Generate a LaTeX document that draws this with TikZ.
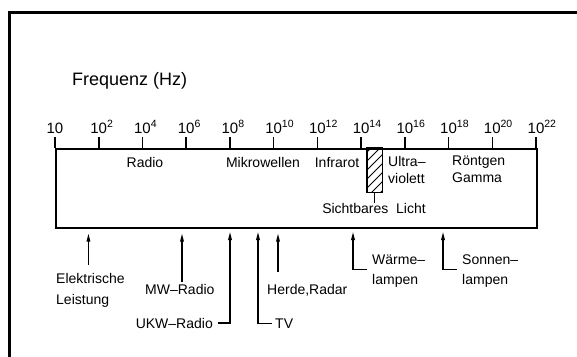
\documentclass[tikz,border=0pt]{standalone}
\usepackage{fontspec}
\setmainfont{Liberation Sans}
\usetikzlibrary{arrows.meta,positioning,calc}

\begin{document}
\begin{tikzpicture}[x=1pt,y=-1pt,
  txt/.style={inner sep=0pt,font=\fontsize{14}{16}\selectfont},
  zwei/.style={txt,align=left,font=\fontsize{14}{#1}\selectfont},
  pfeil/.style={line width=1.3pt,-{Triangle[length=8pt,width=3.6pt]}},
  hinweis/.style={line width=1.3pt}]
  \useasboundingbox (0,0) rectangle (577,356);

  % 外枠
  \draw[line width=2.7pt] (9.3,360) -- (9.3,12.3) -- (580,12.3);

  % 周波数軸
  \node[txt,anchor=base west,font=\fontsize{18}{20}\selectfont] (freq) at (72,85) {Frequenz (Hz)};
  \node[draw,line width=1.6pt,minimum width=481pt,minimum height=79pt,
        anchor=north west,inner sep=0pt] (band) at (55,148) {};
  \coordinate (unten) at ([yshift=-5pt]band.south);
  \foreach \k in {0,...,11} {
    \coordinate (s\k) at (55+43.73*\k,148);
    \draw[line width=1.6pt] (s\k) -- ++(0,-11);
  }
  \node[txt,anchor=base,font=\fontsize{15}{17}\selectfont] (e0) at (55,133) {10};
  \foreach \k in {1,...,11} {
    \pgfmathtruncatemacro\ex{2*\k}
    \node[txt,anchor=base,font=\fontsize{15}{17}\selectfont] (e\k) at (55+43.73*\k,133)
      {10\rlap{\textsuperscript{\ex}}};
  }

  % 帯の中
  \node[txt,anchor=base] (radio) at (145,167) {Radio};
  \node[txt,anchor=base] (mikro) at (263,167) {Mikrowellen};
  \node[txt,anchor=base] (infra) at (337,167) {Infrarot};
  \node[zwei=17,anchor=north west] (uv) at (388,156) {Ultra–\\violett};
  \node[zwei=17,anchor=north west] (roent) at (452,156) {Röntgen\\Gamma};

  % 可視光
  \node[minimum width=15pt,minimum height=44pt,anchor=north west,inner sep=0pt] (licht) at (367,148) {};
  \begin{scope}
    \clip (licht.south west) rectangle (licht.north east);
    \foreach \y in {152,161,...,230} \draw[line width=0.9pt] (367,\y) -- ++(30,-30);
  \end{scope}
  \draw[line width=1.4pt] (licht.south west) rectangle (licht.north east);
  \node[txt,anchor=base] (sicht) at (374,213) {Sichtbares\ \ Licht};
  \draw[hinweis] (licht.south) -- (licht.south |- sicht.north);

  % 用途
  \node[zwei=21,anchor=north west] (elek) at (56,273) {Elektrische\\Leistung};
  \node[txt,anchor=base west] (mw) at (145,294) {MW–Radio};
  \node[txt,anchor=base east] (ukw) at (213,328) {UKW–Radio};
  \node[txt,anchor=base west] (tv) at (275,328) {TV};
  \node[txt,anchor=base west] (herde) at (267,294) {Herde,Radar};
  \node[zwei=20,anchor=north west] (waerme) at (372,255) {Wärme–\\lampen};
  \node[zwei=20,anchor=north west] (sonne) at (462,255) {Sonnen–\\lampen};

  \coordinate (pUKW) at (230,232);
  \coordinate (pTV) at (258,232);
  \coordinate (pWaerme) at (353,232);
  \coordinate (pSonne) at (443,232);

  \draw[pfeil] ([xshift=-2pt,yshift=8pt]elek.north) -- ([xshift=-2pt]elek.north |- unten);
  \draw[pfeil] ([xshift=37pt,yshift=12pt]mw.base west) -- ([xshift=37pt]mw.base west |- unten);
  \draw[pfeil] ([xshift=11pt,yshift=22pt]herde.base west) -- ([xshift=11pt]herde.base west |- unten);
  \draw[pfeil] ([xshift=5pt]ukw.east) -| (pUKW);
  \draw[pfeil] ([xshift=-3pt]tv.west) -| (pTV);
  \draw[pfeil] ([xshift=-5pt,yshift=2pt]waerme.west) -| (pWaerme);
  \draw[pfeil] ([xshift=-5pt,yshift=2pt]sonne.west) -| (pSonne);
\end{tikzpicture}
\end{document}
